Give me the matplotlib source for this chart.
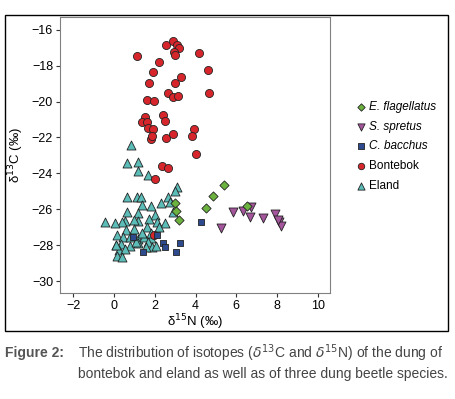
import matplotlib
matplotlib.use("Agg")
import matplotlib.pyplot as plt
from matplotlib.patches import Rectangle

plt.rcParams['font.family'] = ['Liberation Sans', 'DejaVu Sans']

# delta15N (x), delta13C (y) per group
eland_x = [0.85, 0.66, 1.18, 1.18, 1.69, 3.11, 2.99, 2.65, 2.75, 2.89, 2.30, 1.80,
           0.66, 1.15, 1.31, 1.39, 0.66, 1.18, 1.99, 2.52, 2.09, 1.70, 1.20, 0.97,
           0.52, 0.41, 0.03, -0.46, 2.22, 1.62, 0.57, 0.98, 0.17, 0.43, 0.78, 1.18,
           1.47, 1.80, 1.67, 1.88, 2.06, 1.20, 0.78, 0.33, 0.12, 0.25, 0.52, 0.17,
           0.41, 1.06, 1.39, 1.80, 1.59, 0.10]
eland_y = [-22.42, -23.44, -23.35, -23.86, -24.09, -24.74, -24.96, -25.29, -25.59, -26.14,
           -25.66, -25.79, -25.29, -25.29, -25.33, -25.77, -26.14, -26.22, -26.29, -26.77,
           -26.72, -26.53, -26.64, -26.59, -26.63, -26.72, -26.77, -26.72, -27.00, -27.00,
           -27.15, -27.11, -27.43, -27.52, -27.55, -27.63, -27.55, -27.61, -27.80, -28.11,
           -28.04, -27.89, -28.04, -27.94, -28.00, -28.26, -28.20, -28.58, -28.67, -27.80,
           -27.33, -27.33, -28.08, -28.00]

bontebok_x = [1.15, 2.55, 2.89, 3.07, 3.19, 2.94, 3.01, 4.17, 2.19, 1.90, 4.63, 1.70,
              3.01, 3.30, 4.68, 2.65, 2.89, 3.14, 1.62, 1.98, 2.39, 2.49, 1.54, 1.37,
              1.60, 1.69, 1.90, 3.92, 3.84, 1.83, 1.88, 2.55, 2.89, 4.02, 2.37, 2.67,
              2.01, 1.98]
bontebok_y = [-17.45, -16.85, -16.65, -16.85, -17.04, -17.22, -17.41, -17.30, -17.83, -18.34,
              -18.24, -18.97, -18.95, -18.65, -19.52, -19.54, -19.76, -19.69, -19.90, -19.97,
              -20.77, -21.06, -20.84, -21.12, -21.15, -21.49, -21.53, -21.54, -21.92, -22.08,
              -21.92, -22.01, -21.80, -22.90, -23.58, -23.71, -24.31, -27.44]

bacchus_x = [4.25, 3.24, 2.42, 2.50, 3.04, 1.42, 2.09, 0.92]
bacchus_y = [-26.68, -27.89, -27.89, -28.08, -28.39, -28.39, -27.40, -27.52]

spretus_x = [5.82, 6.31, 6.72, 6.69, 7.29, 7.88, 8.12, 8.20, 5.26, 8.05]
spretus_y = [-26.14, -26.07, -25.88, -26.44, -26.48, -26.27, -26.72, -26.94, -27.05, -26.60]

flag_x = [5.39, 4.84, 4.51, 2.98, 3.06, 3.20, 6.54]
flag_y = [-24.66, -25.25, -25.91, -25.63, -26.09, -26.57, -25.79]

fig = plt.figure(figsize=(4.55, 3.99), dpi=100)
ax = fig.add_axes([0.1319, 0.2657, 0.5934, 0.6917])

kw = dict(edgecolors='#222222', linewidths=0.6)
h_el = ax.scatter(eland_x, eland_y, marker='^', s=42, c='#5cbcb8', **kw)
h_bb = ax.scatter(bontebok_x, bontebok_y, marker='o', s=34, c='#d7262b', **kw)
h_cb = ax.scatter(bacchus_x, bacchus_y, marker='s', s=24, c='#2e4a8e', **kw)
h_sp = ax.scatter(spretus_x, spretus_y, marker='v', s=42, c='#a4559c', **kw)
h_ef = ax.scatter(flag_x, flag_y, marker='D', s=22, c='#6cb23f', **kw)

ax.set_xlim(-2.65, 10.6)
ax.set_ylim(-30.65, -15.3)
ax.set_xticks([-2, 0, 2, 4, 6, 8, 10])
ax.set_yticks([-16, -18, -20, -22, -24, -26, -28, -30])
for sp in ax.spines.values():
    sp.set_color('#808080')
    sp.set_linewidth(0.8)
ax.tick_params(direction='out', length=3, width=0.8, color='#333333',
               labelsize=9, pad=2)
ax.set_xlabel('δ$^{15}$N (‰)', fontsize=9.5, labelpad=0)
ax.set_ylabel('δ$^{13}$C (‰)', fontsize=9.5, labelpad=4)

leg = fig.legend([h_ef, h_sp, h_cb, h_bb, h_el],
                 ['E. flagellatus', 'S. spretus', 'C. bacchus', 'Bontebok', 'Eland'],
                 loc='upper left', bbox_to_anchor=(0.765, 0.762), frameon=False,
                 fontsize=8.5, handletextpad=0.1, labelspacing=0.66, borderpad=0,
                 handlelength=1.2, markerscale=0.8, scatterpoints=1)
for t in leg.get_texts()[:3]:
    t.set_fontstyle('italic')

# outer frame around the figure panel
fig.patches.append(Rectangle((0.0103, 0.1704), 0.9737, 0.792, transform=fig.transFigure,
                             fill=False, edgecolor='black', linewidth=1.0))

cap = ['Liberation Sans Narrow', 'Liberation Sans', 'DejaVu Sans']
fig.text(0.011, 1 - 353 / 399, 'Figure 2:', fontsize=10, fontweight='bold',
         color='#555555', family=cap, va='center')
fig.text(0.171, 1 - 353 / 399,
         'The distribution of isotopes ($\\delta^{13}$C and $\\delta^{15}$N) of the dung of',
         fontsize=10, color='#444444', family=cap, va='center')
fig.text(0.171, 1 - 374 / 399,
         'bontebok and eland as well as of three dung beetle species.',
         fontsize=10, color='#444444', family=cap, va='center')

fig.savefig('out.png', dpi=100)
